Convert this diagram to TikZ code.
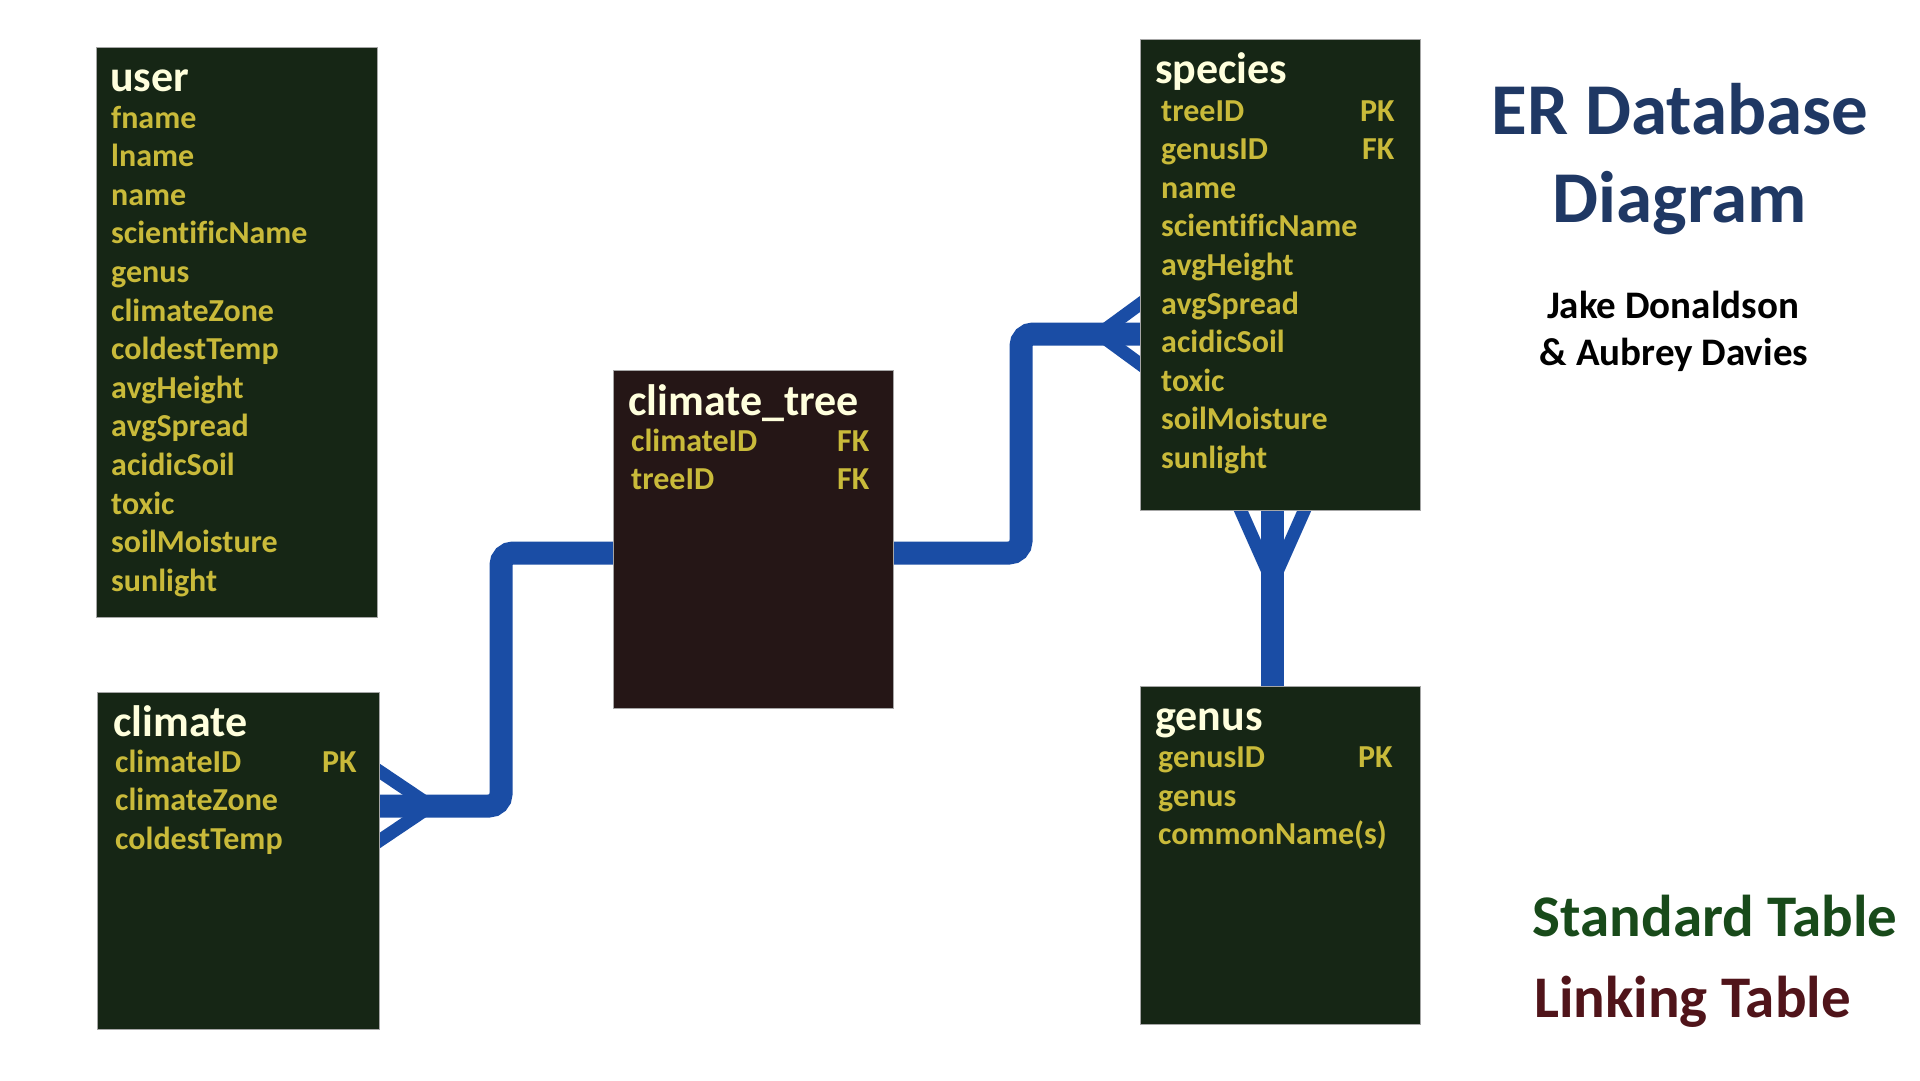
\documentclass[tikz,border=0pt]{standalone}
\usepackage{fontspec}
\setmainfont{Carlito}[Ligatures=NoCommon]
\usetikzlibrary{backgrounds,calc}
\definecolor{stdfill}{RGB}{22,38,21}
\definecolor{linkfill}{RGB}{37,22,22}
\definecolor{fieldcol}{RGB}{201,186,58}
\definecolor{headcol}{RGB}{255,255,221}
\definecolor{relblue}{RGB}{26,77,165}
\definecolor{titlecol}{RGB}{31,56,100}
\definecolor{stdlegend}{RGB}{24,74,26}
\definecolor{linklegend}{RGB}{80,20,26}
\begin{document}
\begin{tikzpicture}[x=1pt,y=-1pt,
  tbl/.style={rectangle, draw=black!35, line width=0.4pt, inner sep=0pt, outer sep=0pt, anchor=north west},
  stdtbl/.style={tbl, fill=stdfill},
  linktbl/.style={tbl, fill=linkfill},
  hdr/.style={anchor=base west, inner sep=0pt, text=headcol, font=\fontsize{44}{52}\selectfont\bfseries},
  fld/.style={anchor=base west, inner sep=0pt, text=fieldcol, font=\fontsize{32}{38}\selectfont\bfseries},
  rel/.style={draw=relblue, line width=23pt, rounded corners=12pt},
  prong/.style={draw=relblue, line width=13pt},
  titletxt/.style={anchor=base, inner sep=0pt, text=titlecol, font=\fontsize{73}{86}\selectfont\bfseries},
  authortxt/.style={anchor=base, inner sep=0pt, text=black, font=\fontsize{39}{47}\selectfont\bfseries},
  legendtxt/.style={anchor=base west, inner sep=0pt, font=\fontsize{59}{70}\selectfont\bfseries},
]
\useasboundingbox (0,0) rectangle (1920,1080);

% tables
\node[stdtbl, minimum width=281pt, minimum height=570pt] (user) at (96,47) {};
\node[stdtbl, minimum width=282pt, minimum height=337pt] (climate) at (97,692) {};
\node[linktbl, minimum width=280pt, minimum height=338pt] (ctree) at (613,370) {};
\node[stdtbl, minimum width=280pt, minimum height=471pt] (species) at (1140,39) {};
\node[stdtbl, minimum width=280pt, minimum height=338pt] (genus) at (1140,686) {};

% user
\node[hdr] (userh) at (110,91) {user};
\foreach \t [count=\i from 0] in {fname,lname,name,scientificName,genus,climateZone,coldestTemp,avgHeight,avgSpread,acidicSoil,toxic,soilMoisture,sunlight}
  \node[fld] (uf\i) at (111,{128+38.6*\i}) {\t};

% climate
\node[hdr] (climateh) at (113,736.5) {climate};
\foreach \t [count=\i from 0] in {climateID,climateZone,coldestTemp}
  \node[fld] (cf\i) at (115,{772+38.6*\i}) {\t};
\node[fld] (cpk) at (322,772) {PK};

% climate_tree
\node[hdr] (ctreeh) at (628,415.5) {climate\_tree};
\foreach \t [count=\i from 0] in {climateID,treeID}
  \node[fld] (tf\i) at (631,{451+38.6*\i}) {\t};
\node[fld] (tfk1) at (837,451) {FK};
\node[fld] (tfk2) at (837,489.6) {FK};

% species
\node[hdr] (speciesh) at (1155,83) {species};
\foreach \t [count=\i from 0] in {treeID,genusID,name,scientificName,avgHeight,avgSpread,acidicSoil,toxic,soilMoisture,sunlight}
  \node[fld] (sf\i) at (1161,{121+38.6*\i}) {\t};
\node[fld] (spk) at (1360,121) {PK};
\node[fld] (sfk) at (1362,159.6) {FK};

% genus
\node[hdr] (genush) at (1155,730.5) {genus};
\foreach \t [count=\i from 0] in {genusID,genus,commonName(s)}
  \node[fld] (gf\i) at (1158,{767.5+38.6*\i}) {\t};
\node[fld] (gpk) at (1358,767.5) {PK};

% title and legend
\node[titletxt] (title1) at (1680,134) {ER Database};
\node[titletxt] (title2) at (1680,222) {Diagram};
\node[authortxt] (auth1) at (1673,318) {Jake Donaldson};
\node[authortxt] (auth2) at (1674,365) {\& Aubrey Davies};
\node[legendtxt, text=stdlegend] (legstd) at (1532.5,936) {Standard Table};
\node[legendtxt, text=linklegend] (leglink) at (1534,1017) {Linking Table};

% connectors
\begin{scope}[on background layer]
  % climate -> climate_tree
  \draw[rel] ([yshift=-114pt]climate.north east) -- ++(122,0) |- ([yshift=-183pt]ctree.north west);
  \coordinate (j1) at ([xshift=52pt,yshift=-114pt]climate.north east);
  \coordinate (e1a) at ([yshift=-79pt]climate.north east);
  \coordinate (e1b) at ([yshift=-149pt]climate.north east);
  \draw[prong] (j1) -- ($(j1)!1.25!(e1a)$);
  \draw[prong] (j1) -- ($(j1)!1.25!(e1b)$);
  % climate_tree -> species
  \draw[rel] ([yshift=-183pt]ctree.north east) -- ++(128,0) |- ([yshift=-295pt]species.north west);
  \coordinate (j2) at ([xshift=-41pt,yshift=-295pt]species.north west);
  \coordinate (e2a) at ([yshift=-265pt]species.north west);
  \coordinate (e2b) at ([yshift=-325pt]species.north west);
  \draw[prong] (j2) -- ($(j2)!1.25!(e2a)$);
  \draw[prong] (j2) -- ($(j2)!1.25!(e2b)$);
  % genus -> species
  \draw[rel] ([xshift=-7.5pt]species.south) -- ([xshift=-7.5pt]genus.north);
  \coordinate (j3) at ([xshift=-7.5pt,yshift=-72pt]species.south);
  \coordinate (e3a) at ([xshift=-39.5pt]species.south);
  \coordinate (e3b) at ([xshift=24.5pt]species.south);
  \draw[prong] (j3) -- ($(j3)!1.2!(e3a)$);
  \draw[prong] (j3) -- ($(j3)!1.2!(e3b)$);
\end{scope}
\end{tikzpicture}
\end{document}
